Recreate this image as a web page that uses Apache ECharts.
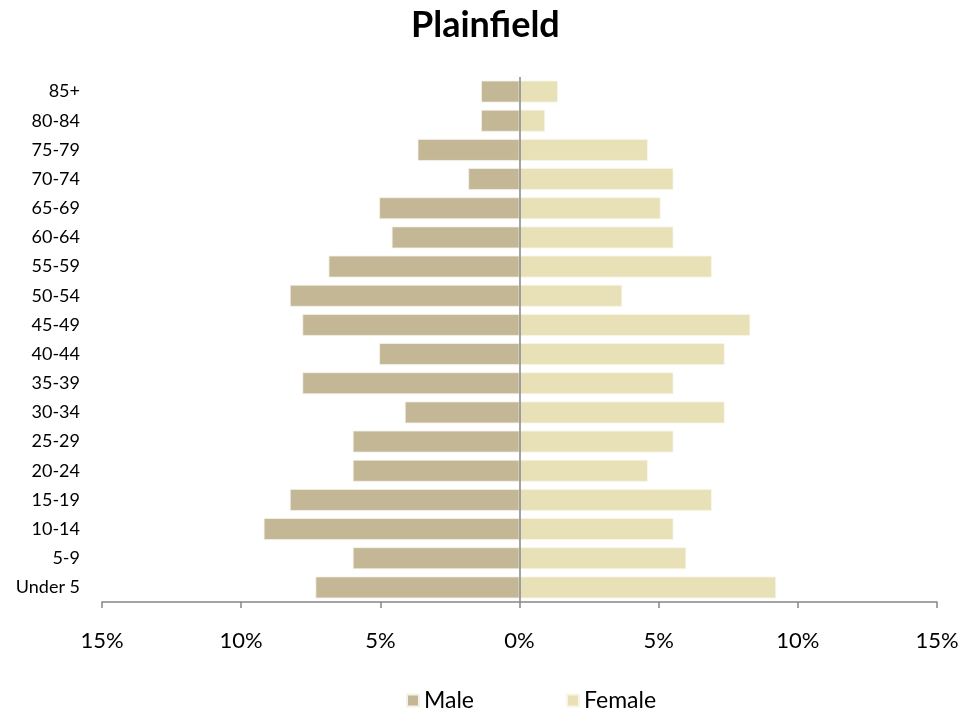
<!DOCTYPE html>
<html>
<head>
<meta charset="utf-8">
<script src="https://cdn.jsdelivr.net/npm/echarts@6/dist/echarts.min.js"></script>
<style>
html,body{margin:0;padding:0;background:#fff;}
#chart{width:979px;height:713px;}
</style>
</head>
<body>
<div id="chart"></div>
<script>
// Categories listed bottom to top
const categories = ['Under 5','5-9','10-14','15-19','20-24','25-29','30-34','35-39','40-44','45-49','50-54','55-59','60-64','65-69','70-74','75-79','80-84','85+'];
// Percent of population (male shown to the left)
const maleValues = [7.33, 5.99, 9.19, 8.25, 5.99, 5.99, 4.12, 7.80, 5.04, 7.80, 8.25, 6.86, 4.59, 5.04, 1.84, 3.66, 1.38, 1.38];
const femaleValues = [9.22, 5.99, 5.53, 6.91, 4.61, 5.53, 7.37, 5.53, 7.37, 8.29, 3.69, 6.91, 5.53, 5.07, 5.53, 4.61, 0.92, 1.38];
const xTicks = [-15, -10, -5, 0, 5, 10, 15];

const FONT = "Lato, 'Open Sans', sans-serif";
const chart = echarts.init(document.getElementById('chart'));
chart.setOption({
  animation: false,
  backgroundColor: '#ffffff',
  title: {
    text: 'Plainfield',
    left: 406,
    top: 2,
    textStyle: {fontFamily: FONT, fontSize: 36, fontWeight: 'bold', color: '#000'}
  },
  legend: {
    top: 684,
    left: 401,
    itemWidth: 12,
    itemHeight: 12,
    itemGap: 92,
    icon: 'rect',
    textStyle: {fontFamily: FONT, fontSize: 23, color: '#000'},
    data: ['Male', 'Female']
  },
  grid: {left: 102, right: 42, top: 77, bottom: 111},
  xAxis: {
    type: 'value',
    min: xTicks[0],
    max: xTicks[xTicks.length - 1],
    interval: 5,
    axisLine: {show: true, lineStyle: {color: '#868686', width: 1.5}},
    axisTick: {show: true, length: 6, lineStyle: {color: '#868686', width: 1.5}},
    splitLine: {show: false},
    axisLabel: {
      margin: 28,
      fontFamily: FONT, fontSize: 22, color: '#000',
      formatter: v => Math.abs(v) + '%'
    }
  },
  yAxis: {
    type: 'category',
    data: categories,
    axisLine: {show: false},
    axisTick: {show: false},
    axisLabel: {margin: 22, fontFamily: FONT, fontSize: 18, color: '#000'}
  },
  series: [
    {
      name: 'Male',
      type: 'bar',
      data: maleValues.map(v => -v),
      barGap: '-100%',
      barCategoryGap: '25%',
      itemStyle: {color: '#C4B796', borderColor: '#F4F1E8', borderWidth: 0.8},
      markLine: {
        silent: true,
        symbol: ['none', 'none'],
        label: {show: false},
        lineStyle: {color: '#868686', width: 1.5, type: 'solid'},
        data: [{xAxis: 0}]
      }
    },
    {
      name: 'Female',
      type: 'bar',
      data: femaleValues,
      barGap: '-100%',
      barCategoryGap: '25%',
      itemStyle: {color: '#E8E1B7', borderColor: '#F8F5E8', borderWidth: 0.8}
    }
  ]
});
</script>
</body>
</html>
